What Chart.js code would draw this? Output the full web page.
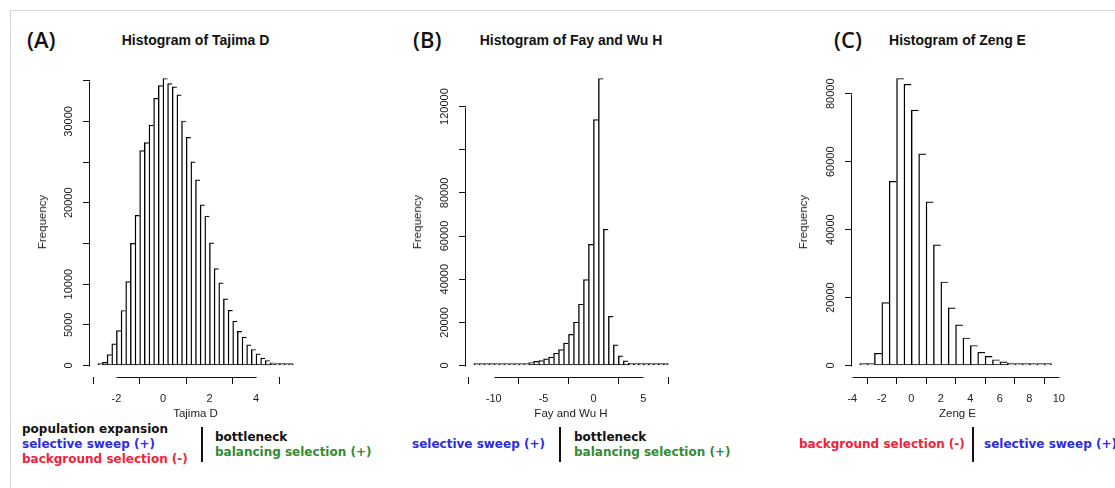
<!DOCTYPE html>
<html lang="en">
  <head>
    <title>Histograms of neutrality tests</title>
    <meta charset="utf-8" />
    <script src="https://cdn.jsdelivr.net/npm/chart.js@4.4.1/dist/chart.umd.min.js"></script>
    <style>
      body { margin: 0; background: #fff; }
      #page {
        position: relative; width: 1115px; height: 488px; overflow: hidden;
        font-family: "Liberation Sans", Arial, sans-serif; color: #222;
      }
      .frame-top { position: absolute; left: 10px; top: 10px; right: 0; height: 1px; background: #d6d6d6; }
      .frame-left { position: absolute; left: 10px; top: 10px; bottom: 0; width: 1px; background: #d6d6d6; }
      .tag {
        position: absolute; top: 39px; transform: translateY(-50%);
        font-family: "Open Sans", sans-serif; font-size: 22px; font-weight: 600; color: #111;
      }
      .title {
        position: absolute; top: 40px; transform: translate(-50%, -50%);
        font-weight: bold; font-size: 14px; white-space: nowrap; color: #111;
      }
      .xlab {
        position: absolute; top: 413px; transform: translate(-50%, -50%);
        font-size: 11.5px; white-space: nowrap;
      }
      .ylab {
        position: absolute; top: 222px; transform: translate(-50%, -50%) rotate(-90deg);
        font-size: 11.5px; white-space: nowrap;
      }
      canvas { position: absolute; top: 60px; }
      .note {
        position: absolute; font-family: "DejaVu Sans", sans-serif; font-weight: bold;
        font-size: 12px; line-height: 15px; white-space: nowrap;
      }
      .sep { position: absolute; top: 427px; width: 2px; height: 35px; background: #111; }
      .blk { color: #111; }
      .blue { color: #2d2de0; }
      .red { color: #f2223a; }
      .green { color: #338a33; }
    </style>
  </head>

  <body>
    <div id="page">
      <div class="frame-top"></div>
      <div class="frame-left"></div>

      <div class="tag" style="left:27px">(A)</div>
      <div class="tag" style="left:413px">(B)</div>
      <div class="tag" style="left:834px">(C)</div>

      <div class="title" style="left:195.5px">Histogram of Tajima D</div>
      <div class="title" style="left:571px">Histogram of Fay and Wu H</div>
      <div class="title" style="left:957.5px">Histogram of Zeng E</div>

      <canvas id="chartA" width="281" height="357" style="left:30px"></canvas>
      <canvas id="chartB" width="280" height="357" style="left:406px"></canvas>
      <canvas id="chartC" width="281" height="357" style="left:792px"></canvas>

      <div class="ylab" style="left:42px">Frequency</div>
      <div class="ylab" style="left:417px">Frequency</div>
      <div class="ylab" style="left:803px">Frequency</div>

      <div class="xlab" style="left:195.5px">Tajima D</div>
      <div class="xlab" style="left:571px">Fay and Wu H</div>
      <div class="xlab" style="left:957.5px">Zeng E</div>

      <!-- interpretation notes under each panel -->
      <div class="note" style="left:22px; top:422px">
        <div class="blk">population expansion</div>
        <div class="blue">selective sweep (+)</div>
        <div class="red">background selection (-)</div>
      </div>
      <div class="sep" style="left:201px"></div>
      <div class="note" style="left:215px; top:430px">
        <div class="blk">bottleneck</div>
        <div class="green">balancing selection (+)</div>
      </div>

      <div class="note blue" style="left:412px; top:437px">selective sweep (+)</div>
      <div class="sep" style="left:559px"></div>
      <div class="note" style="left:574px; top:430px">
        <div class="blk">bottleneck</div>
        <div class="green">balancing selection (+)</div>
      </div>

      <div class="note red" style="left:799px; top:437px">background selection (-)</div>
      <div class="sep" style="left:972px"></div>
      <div class="note blue" style="left:984px; top:437px">selective sweep (+)</div>
    </div>

    <script>
      // Tajima D : bins of 0.2 starting at -2.8
      const tajimaStart = -2.8;
      const tajimaWidth = 0.2;
      const tajimaCounts = [
        150, 400, 1350, 2660, 4300, 6760, 10300, 15000, 18450, 26400,
        27400, 29550, 32840, 34400, 35270, 34650, 34240, 33250, 30050, 28030,
        25030, 22810, 19730, 18370, 15080, 11920, 10150, 8180, 6780, 5460,
        4190, 3490, 2550, 1970, 1440, 900, 620, 330, 200, 100,
        50, 30
      ];
      const tajimaXTicks = [-2, 0, 2, 4];
      const tajimaYTicks = [0, 5000, 10000, 15000, 20000, 25000, 30000, 35000];
      const tajimaYLabels = [0, 5000, 10000, 20000, 30000];

      // Fay and Wu H : bins of 0.5 starting at -12
      const fayStart = -12;
      const fayWidth = 0.5;
      const fayCounts = [
        30, 40, 60, 90, 130, 180, 250, 350, 480, 650,
        900, 1400, 1900, 2300, 3100, 3900, 5700, 7400, 10400, 14400,
        20100, 28400, 39800, 56100, 113900, 133000, 63100, 22800, 9600, 4500,
        2200, 1000, 500, 250, 120, 60, 30, 15, 8
      ];
      const fayXTicks = [-10, -5, 0, 5];
      const fayYTicks = [0, 20000, 40000, 60000, 80000, 100000, 120000];
      const fayYLabels = [0, 20000, 40000, 60000, 80000, 120000];

      // Zeng E : bins of 0.5 starting at -3.5
      const zengStart = -3.5;
      const zengWidth = 0.5;
      const zengCounts = [
        150, 500, 3600, 18500, 54200, 84500, 82800, 75200, 62300, 48200,
        35500, 24600, 17000, 12000, 8100, 5900, 3900, 2700, 1700, 1100,
        700, 400, 250, 150, 80, 40
      ];
      const zengXTicks = [-4, -2, 0, 2, 4, 6, 8, 10];
      const zengYTicks = [0, 20000, 40000, 60000, 80000];
      const zengYLabels = [0, 20000, 40000, 60000, 80000];

      // R style axes: line only between first and last tick, rotated y labels
      const rAxes = {
        id: "rAxes",
        afterDraw(chart, args, opts) {
          const { ctx, chartArea, scales } = chart;
          const x = scales.x, y = scales.y;
          ctx.save();
          ctx.strokeStyle = "#111";
          ctx.lineWidth = 1;

          const xs = x.ticks.map((t) => x.getPixelForValue(t.value));
          const by = Math.round(chartArea.bottom) + 0.5;
          ctx.beginPath();
          ctx.moveTo(Math.round(xs[0]) + 0.5, by);
          ctx.lineTo(Math.round(xs[xs.length - 1]) + 0.5, by);
          ctx.stroke();

          const ys = y.ticks.map((t) => y.getPixelForValue(t.value));
          const lx = Math.round(chartArea.left) - 0.5;
          ctx.beginPath();
          ctx.moveTo(lx, Math.round(ys[0]) + 0.5);
          ctx.lineTo(lx, Math.round(ys[ys.length - 1]) + 0.5);
          ctx.stroke();

          ctx.fillStyle = "#222";
          ctx.font = '11px "Liberation Sans", Arial, sans-serif';
          ctx.textAlign = "center";
          ctx.textBaseline = "middle";
          opts.labels.forEach((v) => {
            ctx.save();
            ctx.translate(chartArea.left - 21, y.getPixelForValue(v));
            ctx.rotate(-Math.PI / 2);
            ctx.fillText(String(v), 0, 0);
            ctx.restore();
          });
          ctx.restore();
        },
      };

      function histogram(id, start, width, counts, xTicks, yTicks, yLabels) {
        const lo = start;
        const hi = start + counts.length * width;
        const top = Math.max(...counts);
        const last = counts.length - 1;
        const points = counts.map((c, i) => ({ x: start + (i + 0.5) * width, y: c }));

        return new Chart(document.getElementById(id), {
          type: "bar",
          data: {
            datasets: [
              {
                data: points,
                backgroundColor: "#ffffff",
                borderColor: "#000000",
                borderWidth: (c) =>
                  c.dataIndex === last
                    ? { left: 1.4, top: 1.2, bottom: 1, right: 1.2 }
                    : { left: 1.4, top: 1.2, bottom: 1, right: 0 },
                borderSkipped: false,
                minBarLength: 2,
                barPercentage: 1,
                categoryPercentage: 1,
              },
            ],
          },
          options: {
            responsive: false,
            animation: false,
            devicePixelRatio: 1,
            layout: { padding: { top: 7, right: 10, left: 0, bottom: 0 } },
            plugins: {
              legend: { display: false },
              tooltip: { enabled: false },
              rAxes: { labels: yLabels },
            },
            scales: {
              x: {
                type: "linear",
                offset: false,
                min: lo - 0.04 * (hi - lo),
                max: hi + 0.04 * (hi - lo),
                afterBuildTicks: (s) => { s.ticks = xTicks.map((v) => ({ value: v })); },
                afterFit: (s) => { s.height = 40; },
                grid: { drawOnChartArea: false, drawTicks: true, tickLength: 7, color: "#111" },
                border: { display: false },
                ticks: {
                  autoSkip: false,
                  maxRotation: 0,
                  padding: 8,
                  color: "#222",
                  font: { family: "Liberation Sans", size: 11 },
                },
              },
              y: {
                min: -0.04 * top,
                max: 1.04 * top,
                afterBuildTicks: (s) => { s.ticks = yTicks.map((v) => ({ value: v })); },
                afterFit: (s) => { s.width = 60; },
                grid: { drawOnChartArea: false, drawTicks: true, tickLength: 7, color: "#111" },
                border: { display: false },
                ticks: { display: false },
              },
            },
          },
          plugins: [rAxes],
        });
      }

      histogram("chartA", tajimaStart, tajimaWidth, tajimaCounts, tajimaXTicks, tajimaYTicks, tajimaYLabels);
      histogram("chartB", fayStart, fayWidth, fayCounts, fayXTicks, fayYTicks, fayYLabels);
      histogram("chartC", zengStart, zengWidth, zengCounts, zengXTicks, zengYTicks, zengYLabels);
    </script>
  </body>
</html>
